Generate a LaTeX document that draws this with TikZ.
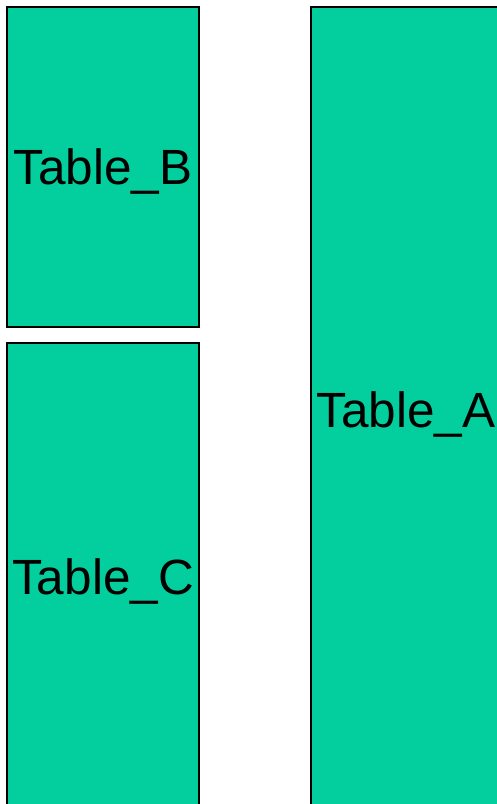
\documentclass[tikz,border=0pt]{standalone}
\usepackage{fontspec}
\setmainfont{Liberation Sans}
\usepackage{tikz}
\usetikzlibrary{positioning}
\definecolor{tablegreen}{RGB}{3,206,158}

\begin{document}
\begin{tikzpicture}[x=1pt,y=-1pt,font=\fontsize{49.5}{52}\selectfont,
  tbl/.style={rectangle,draw=black,fill=tablegreen,line width=1.6pt,
    inner sep=0pt,text depth=0pt,minimum width=192pt}]
  \useasboundingbox (0,0) rectangle (497,804);
  \clip (0,0) rectangle (497,804);
  % tables
  \node[tbl,minimum height=320pt] (tB) at (103,167) {Table\_B};
  \node[tbl,minimum height=468pt] (tC) at (103,577) {Table\_C};
  \node[tbl,minimum width=190pt,minimum height=806pt] (tA) at (406,410) {Table\_A};
\end{tikzpicture}
\end{document}
